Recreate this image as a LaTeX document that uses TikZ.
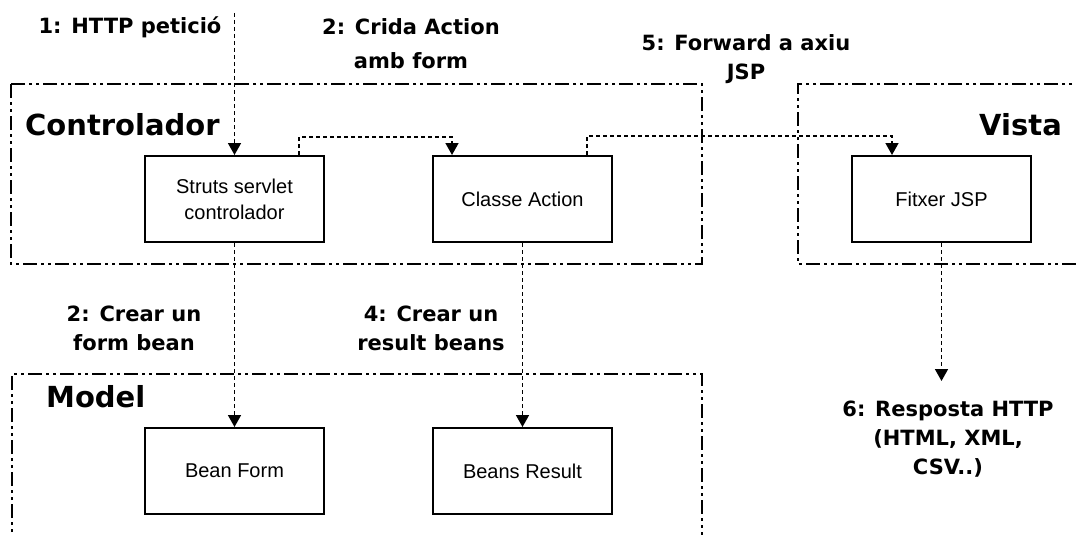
\documentclass[tikz,border=0pt]{standalone}
\usepackage{fontspec}
\setmainfont{Liberation Sans}
\newfontfamily\lblfont{DejaVu Sans}
\usetikzlibrary{arrows.meta,calc}
\tikzset{
  container/.style={line width=1.6pt, dash pattern=on 14pt off 4pt on 3pt off 4pt on 3pt off 4pt},
  compbox/.style={draw, line width=2pt, minimum width=179pt, minimum height=86pt, inner sep=0pt, align=center, font=\fontsize{20}{26}\selectfont},
  flow/.style={line width=1.6pt, dash pattern=on 4pt off 3pt, -{Triangle[width=13pt,length=12pt]}},
  lbl/.style={inner sep=0pt, anchor=north, align=center, font=\lblfont\bfseries\fontsize{21}{29}\selectfont},
  grouptitle/.style={inner sep=0pt, font=\lblfont\bfseries\fontsize{29}{34}\selectfont},
}
\begin{document}
\begin{tikzpicture}[x=1pt,y=-1pt]
\fill[white] (0,0) rectangle (1076,535);
\useasboundingbox (0,0) rectangle (1076,535);
\clip (0,0) rectangle (1076,535);

% containers
\draw[container] (11,84) rectangle (702,264);
\draw[container] (1090,84) -- (798,84) -- (798,264) -- (1090,264);
\draw[container] (12,550) -- (12,374) -- (702,374) -- (702,550);

\node[grouptitle, anchor=base west] (tctrl) at (25,135) {Controlador};
\node[grouptitle, anchor=base east] (tvista) at (1062,135) {Vista};
\node[grouptitle, anchor=base west] (tmodel) at (46,407) {Model};

% components
\node[compbox] (struts) at (234.5,199) {Struts servlet\\controlador};
\node[compbox] (classe) at (522.5,199) {Classe Action};
\node[compbox] (fitxer) at (941.5,199) {Fitxer JSP};
\node[compbox] (beanform) at (234.5,471) {Bean Form};
\node[compbox] (beansres) at (522.5,471) {Beans Result};

% free ends
\coordinate (start1) at (234.5,13);
\coordinate (end6) at (941.5,381);

% connectors
\draw[flow] (start1) -- (struts.north);
\draw[flow] ([xshift=64.5pt]struts.north) -- ++(0,-18) -| ([xshift=-70.5pt]classe.north);
\draw[flow] ([xshift=64.5pt]classe.north) -- ++(0,-19) -| ([xshift=-49.5pt]fitxer.north);
\draw[flow] (struts.south) -- (beanform.north);
\draw[flow] (classe.south) -- (beansres.north);
\draw[flow] (fitxer.south) -- (end6);

% labels
\node[lbl] (l1) at (130,17) {1: HTTP petició};
\node[lbl, font=\lblfont\bfseries\fontsize{21}{34}\selectfont] (l2) at (411,18) {2: Crida Action\\amb form};
\node[lbl] (l5) at (746,34) {5: Forward a axiu\\JSP};
\node[lbl] (l2b) at (134,306) {2: Crear un\\form bean};
\node[lbl] (l4) at (431,306) {4: Crear un\\result beans};
\node[lbl] (l6) at (948,401) {6: Resposta HTTP\\(HTML, XML,\\CSV..)};
\end{tikzpicture}
\end{document}
